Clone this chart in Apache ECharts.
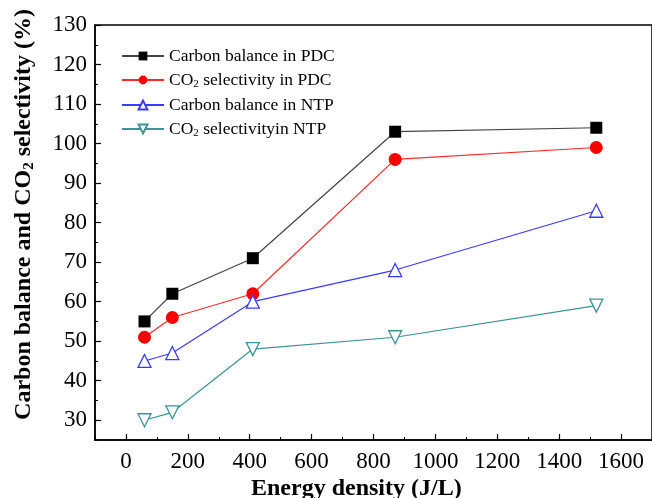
<!DOCTYPE html>
<html>
<head>
<meta charset="utf-8">
<script src="https://cdn.jsdelivr.net/npm/echarts@6/dist/echarts.min.js"></script>
<style>
  html, body { margin: 0; padding: 0; background: #fff; }
  #chart { width: 652px; height: 498px; }
</style>
</head>
<body>
<div id="chart"></div>
<script>
// energy density (J/L) of each measured point
let energy = [60, 150, 410, 870, 1520];
let carbonPDC = [55, 62, 71, 103, 104];
let co2PDC = [51, 56, 62, 96, 99];
let carbonNTP = [45, 47, 60, 68, 83];
let co2NTP = [30, 32, 48, 51, 59];

let xTicks = [0, 200, 400, 600, 800, 1000, 1200, 1400, 1600];
let yTicks = [30, 40, 50, 60, 70, 80, 90, 100, 110, 120, 130];

let names = ['Carbon balance in PDC', 'CO2 selectivity in PDC', 'Carbon balance in NTP', 'CO2 selectivityin NTP'];

function pairs(vals) {
    let out = [];
    for (var i = 0; i < energy.length; i++) {
        out.push([energy[i], vals[i]]);
    }
    return out;
}

let chart = echarts.init(document.getElementById('chart'));
let serif = 'Liberation Serif';

function legendLabel(name) {
    if (name.indexOf('CO2') === 0) {
        return '{t|CO}{s|2}{t|' + name.slice(3) + '}';
    }
    return '{t|' + name + '}';
}

var option = {
    animation: false,
    textStyle: { fontFamily: serif },
    grid: {
        left: 95, top: 25, right: -4, bottom: 58,
        show: true, borderColor: '#000', borderWidth: 1.5
    },
    title: {
        text: '{b|Energy density (J/L)}',
        left: 246, top: 472,
        textStyle: {
            rich: { b: { fontFamily: serif, fontWeight: 'bold', fontSize: 24, color: '#000' } }
        }
    },
    legend: {
        orient: 'vertical',
        left: 116, top: 42,
        itemWidth: 42, itemHeight: 11, itemGap: 6,
        data: names,
        formatter: legendLabel,
        textStyle: {
            rich: {
                t: { fontFamily: serif, fontSize: 17.5, color: '#000' },
                s: { fontFamily: serif, fontSize: 11, color: '#000', padding: [9, 0, 0, 0] }
            }
        }
    },
    xAxis: [
        {
            type: 'value', min: -100, max: 1700,
            splitLine: { show: false },
            axisLine: { onZero: false, lineStyle: { color: '#000', width: 1.5 } },
            axisTick: { inside: true, length: 6, customValues: xTicks, lineStyle: { color: '#000', width: 1.2 } },
            axisLabel: {
                customValues: xTicks, fontSize: 23, color: '#000', fontFamily: serif, margin: 10,
                formatter: function (v) { return String(v); }
            }
        },
        {
            type: 'value', min: -100, max: 1700, interval: 100,
            position: 'bottom',
            splitLine: { show: false },
            axisLine: { show: false, onZero: false },
            axisTick: { inside: true, length: 3, lineStyle: { color: '#000', width: 1 } },
            axisLabel: { show: false }
        }
    ],
    yAxis: [
        {
            type: 'value', min: 25, max: 130,
            splitLine: { show: false },
            axisLine: { show: true, onZero: false, lineStyle: { color: '#000', width: 1.5 } },
            axisTick: { show: true, inside: true, length: 6, customValues: yTicks, lineStyle: { color: '#000', width: 1.2 } },
            axisLabel: { customValues: yTicks, fontSize: 23, color: '#000', fontFamily: serif, margin: 8 },
            name: '{b|Carbon balance and CO}{s|2}{b| selectivity (%)}',
            nameLocation: 'middle',
            nameGap: 58,
            nameTextStyle: {
                padding: [0, 0, 0, 36],
                rich: {
                    b: { fontFamily: serif, fontWeight: 'bold', fontSize: 24, color: '#000' },
                    s: { fontFamily: serif, fontWeight: 'bold', fontSize: 15, color: '#000', padding: [11, 0, 0, 0] }
                }
            }
        },
        {
            type: 'value', min: 25, max: 130, interval: 5,
            position: 'left',
            splitLine: { show: false },
            axisLine: { show: false, onZero: false },
            axisTick: { show: true, inside: true, length: 3, lineStyle: { color: '#000', width: 1 } },
            axisLabel: { show: false }
        }
    ],
    series: [
        {
            name: names[0], type: 'line', data: pairs(carbonPDC),
            symbol: 'rect', symbolSize: 12,
            lineStyle: { color: '#444', width: 1.2 },
            itemStyle: { color: '#000' }
        },
        {
            name: names[1], type: 'line', data: pairs(co2PDC),
            symbol: 'circle', symbolSize: 13,
            lineStyle: { color: '#ff2a2a', width: 1.2 },
            itemStyle: { color: '#ff0000' }
        },
        {
            name: names[2], type: 'line', data: pairs(carbonNTP),
            symbol: 'triangle', symbolSize: 13,
            lineStyle: { color: '#3a3aff', width: 1.2 },
            itemStyle: { color: '#fff', borderColor: '#3a3aff', borderWidth: 1.3 }
        },
        {
            name: names[3], type: 'line', data: pairs(co2NTP),
            symbol: 'triangle', symbolRotate: 180, symbolSize: 13,
            lineStyle: { color: '#3a9494', width: 1.2 },
            itemStyle: { color: '#fff', borderColor: '#3a9494', borderWidth: 1.3 }
        }
    ]
};

option && chart.setOption(option, true);
</script>
</body>
</html>
